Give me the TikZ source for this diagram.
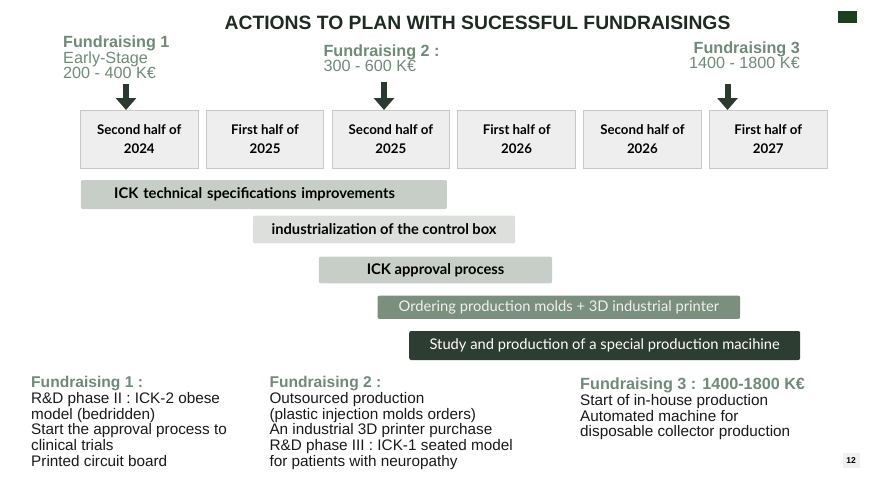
\documentclass[tikz,border=0pt]{standalone}
\usepackage{fontspec}
\setmainfont{Liberation Sans}
\newfontfamily\latofont{Lato}
\usetikzlibrary{arrows.meta,positioning}
\definecolor{FRgreen}{HTML}{6F8A76}
\definecolor{FRdark}{HTML}{1E2B21}
\definecolor{FRarrow}{HTML}{2B3A2E}
\definecolor{BarLight}{HTML}{C6CEC7}
\definecolor{BarPale}{HTML}{DCDFDC}
\definecolor{BarMid}{HTML}{7A8F7D}
\definecolor{BarDeep}{HTML}{2E3D31}
\definecolor{BoxFill}{HTML}{EEEEEE}
\definecolor{BoxLine}{HTML}{C8C8C8}

\begin{document}
\begin{tikzpicture}[x=1pt,y=-1pt,>=Latex,
  half/.style={draw=BoxLine,fill=BoxFill,line width=1pt,minimum width=117.5pt,minimum height=58pt,inner sep=0pt,align=center,font=\latofont\bfseries\fontsize{13.3}{19}\selectfont},
  bar/.style={rounded corners=2pt,inner ysep=0pt,anchor=west,font=\latofont\fontsize{14.7}{16}\selectfont},
  barbold/.style={bar,font=\latofont\bfseries\fontsize{14.7}{16}\selectfont},
  fundlabel/.style={inner sep=0pt,text=FRgreen,font=\fontsize{16.2}{15}\selectfont},
  fundarrow/.style={draw=FRarrow,line width=6pt,-{Triangle[width=20pt,length=12pt]}},
  notes/.style={anchor=north west,inner sep=0pt,align=left,text=black!90,font=\fontsize{15.3}{15.8}\selectfont}]
  \useasboundingbox (0,0) rectangle (877,479);

  % title and corner tab
  \node[anchor=base,text=FRdark,font=\bfseries\fontsize{19.3}{20}\selectfont] (title) at (477.5,29) {ACTIONS TO PLAN WITH SUCESSFUL FUNDRAISINGS};
  \fill[FRdark!90!green] (838,11) rectangle (857,23);

  % half-year boxes
  \node[half,anchor=north west] (h1) at (80,110) {Second half of\\2024};
  \node[half,right=7.3pt of h1] (h2) {First half of\\2025};
  \node[half,right=7.3pt of h2] (h3) {Second half of\\2025};
  \node[half,right=7.3pt of h3] (h4) {First half of\\2026};
  \node[half,right=7.3pt of h4] (h5) {Second half of\\2026};
  \node[half,right=7.3pt of h5] (h6) {First half of\\2027};

  % fundraising rounds
  \node[fundlabel,anchor=north west,align=left] (fr1) at (63,35.3) {\textbf{Fundraising 1}\\Early-Stage\\200 - 400 K€};
  \node[fundlabel,anchor=north west,align=left] (fr2) at (323.3,44.7) {\textbf{Fundraising 2 :}\\300 - 600 K€};
  \node[fundlabel,anchor=north east,align=right] (fr3) at (800,41.7) {\textbf{Fundraising 3}\\1400 - 1800 K€};
  \coordinate (a1) at (126,84);
  \coordinate (a2) at (384,82);
  \coordinate (a3) at (727.5,83.5);
  \draw[fundarrow] (a1) -- (a1 |- h1.north);
  \draw[fundarrow] (a2) -- (a2 |- h3.north);
  \draw[fundarrow] (a3) -- (a3 |- h6.north);

  % actions
  \node[barbold,fill=BarLight,minimum height=29pt,inner xsep=33.3pt,text width=299.4pt,align=left] (b1) at (80.7,194.5) {ICK technical specifications improvements};
  \node[barbold,fill=BarPale,minimum height=27.6pt,minimum width=262.3pt] (b2) at (252.7,229.5) {industrialization of the control box};
  \node[barbold,fill=BarLight,minimum height=26.6pt,minimum width=233.3pt] (b3) at (318.7,270) {ICK approval process};
  \node[bar,fill=BarMid,text=white!94!black,minimum height=23.3pt,minimum width=362.7pt] (b4) at (377.3,307.3) {Ordering production molds + 3D industrial printer};
  \node[bar,fill=BarDeep,text=white,minimum height=29pt,minimum width=391pt] (b5) at (409,345.5) {Study and production of a special production macihine};

  % what each round pays for
  \node[notes] (n1) at (31,376) {\textcolor{FRgreen}{\fontsize{15.6}{15.8}\selectfont\textbf{Fundraising 1 :}}\\R\&D phase II : ICK-2 obese\\model (bedridden)\\Start the approval process to\\clinical trials\\Printed circuit board};
  \node[notes] (n2) at (269.3,376) {\textcolor{FRgreen}{\fontsize{15.6}{15.8}\selectfont\textbf{Fundraising 2 :}}\\Outsourced production\\(plastic injection molds orders)\\An industrial 3D printer purchase\\R\&D phase III : ICK-1 seated model\\for patients with neuropathy};
  \node[notes] (n3) at (580,377.5) {\textcolor{FRgreen}{\fontsize{16.2}{15.8}\selectfont\textbf{Fundraising 3 : 1400-1800 K€}}\\Start of in-house production\\Automated machine for\\disposable collector production};

  \node[fill=black!6,inner sep=0pt,minimum width=17pt,minimum height=15pt,font=\bfseries\fontsize{8.5}{9}\selectfont] (pg) at (851,460.5) {12};
\end{tikzpicture}
\end{document}
